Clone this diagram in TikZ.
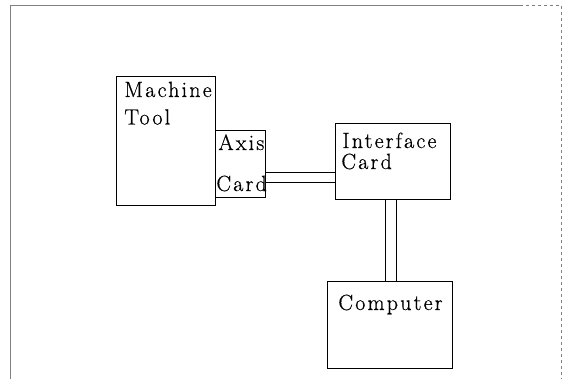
\documentclass[tikz,border=0pt]{standalone}
\usepackage{fontspec}
\setmainfont{Latin Modern Roman}[LetterSpace=10, FakeBold=0.6]

\begin{document}
\begin{tikzpicture}[x=1pt, y=-1pt, line width=0.8pt]
  \tikzset{
    block/.style={draw, inner sep=0pt},
    tag/.style={anchor=base west, inner sep=0pt, font=\fontsize{22}{24}\selectfont}
  }
  \useasboundingbox (0,0) rectangle (563,379);

  % frame of the page
  \draw[gray] (10,379) -- (10,5) -- (520,5);
  \draw[gray, dashed, line width=0.5pt] (520,5) -- (561,5) -- (561,379);

  \node[block, minimum width=99pt, minimum height=129pt] (tool)  at (165.5,140.5) {};
  \node[block, minimum width=50pt, minimum height=67pt]  (axis)  at (240,163.5) {};
  \node[block, minimum width=115pt, minimum height=76pt] (iface) at (392.5,161) {};
  \node[block, minimum width=125pt, minimum height=87pt] (comp)  at (389.5,324.5) {};

  \node[tag] (toolA) at (124,97) {Machine};
  \node[tag] (toolB) at (124,124.5) {Tool};
  \node[tag] (axisA) at (218,150) {Axis};
  \node[tag] (axisB) at (216,191) {Card};
  \node[tag] (ifaceA) at (342,148) {Interface};
  \node[tag] (ifaceB) at (341,169) {Card};
  \node[tag] (compA) at (338,310) {Computer};

  % connections, drawn as pairs of lines
  \draw (axis.east |- 0,172) -- (iface.west |- 0,172);
  \draw (axis.east |- 0,182) -- (iface.west |- 0,182);
  \draw (iface.south -| 385,0) -- (comp.north -| 385,0);
  \draw (iface.south -| 396,0) -- (comp.north -| 396,0);
\end{tikzpicture}
\end{document}
